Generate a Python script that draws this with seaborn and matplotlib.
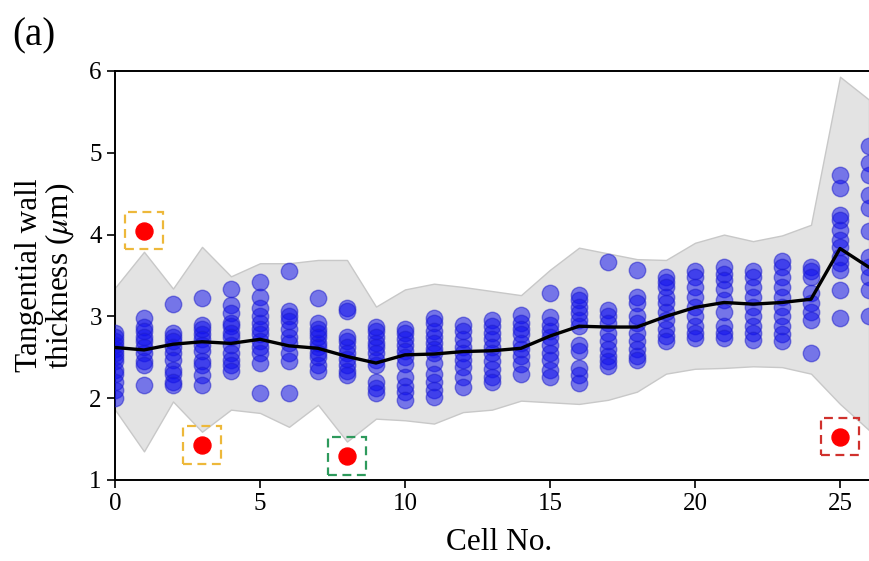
import numpy as np
import pandas as pd
import matplotlib
matplotlib.use("Agg")
import matplotlib.pyplot as plt
from matplotlib.patches import Rectangle
import seaborn as sns

# Wall thickness measurements (um) for each cell position
thickness = {
    0: [2.80, 2.75, 2.70, 2.65, 2.60, 2.55, 2.50, 2.45, 2.35, 2.30, 2.20, 2.10, 2.00],
    1: [2.98, 2.87, 2.82, 2.75, 2.70, 2.62, 2.55, 2.45, 2.40, 2.16],
    2: [3.15, 2.80, 2.75, 2.70, 2.62, 2.55, 2.47, 2.35, 2.30, 2.20, 2.16],
    3: [3.23, 2.90, 2.84, 2.78, 2.72, 2.65, 2.58, 2.45, 2.40, 2.28, 2.16],
    4: [3.34, 3.14, 3.04, 2.92, 2.88, 2.80, 2.75, 2.65, 2.55, 2.47, 2.40, 2.33],
    5: [3.42, 3.24, 3.10, 3.00, 2.92, 2.85, 2.78, 2.70, 2.63, 2.55, 2.43, 2.06],
    6: [3.56, 3.06, 3.00, 2.94, 2.85, 2.75, 2.68, 2.55, 2.45, 2.06],
    7: [3.22, 2.92, 2.85, 2.80, 2.75, 2.68, 2.62, 2.55, 2.50, 2.40, 2.33],
    8: [3.10, 3.06, 2.75, 2.70, 2.62, 2.55, 2.48, 2.40, 2.33, 2.28],
    9: [2.87, 2.82, 2.75, 2.68, 2.62, 2.55, 2.47, 2.40, 2.20, 2.12, 2.06],
    10: [2.85, 2.80, 2.72, 2.65, 2.58, 2.50, 2.42, 2.26, 2.15, 2.08, 1.98],
    11: [2.98, 2.92, 2.82, 2.75, 2.68, 2.60, 2.55, 2.43, 2.30, 2.20, 2.10, 2.02],
    12: [2.89, 2.82, 2.72, 2.62, 2.55, 2.47, 2.38, 2.26, 2.14],
    13: [2.95, 2.88, 2.80, 2.72, 2.62, 2.55, 2.45, 2.36, 2.26, 2.20],
    14: [3.02, 2.92, 2.85, 2.78, 2.68, 2.60, 2.52, 2.42, 2.30],
    15: [3.28, 2.99, 2.90, 2.82, 2.75, 2.65, 2.55, 2.47, 2.35, 2.26],
    16: [3.26, 3.20, 3.12, 3.04, 2.96, 2.88, 2.65, 2.58, 2.37, 2.28, 2.18],
    17: [3.67, 3.08, 3.00, 2.92, 2.80, 2.70, 2.60, 2.52, 2.45, 2.39],
    18: [3.57, 3.24, 3.16, 3.00, 2.92, 2.80, 2.70, 2.60, 2.52, 2.47],
    19: [3.48, 3.42, 3.36, 3.24, 3.16, 3.05, 2.95, 2.85, 2.76, 2.70],
    20: [3.55, 3.48, 3.36, 3.24, 3.12, 3.00, 2.88, 2.80, 2.74],
    21: [3.60, 3.52, 3.45, 3.33, 3.20, 3.05, 2.88, 2.80, 2.73],
    22: [3.56, 3.48, 3.36, 3.24, 3.12, 3.00, 2.88, 2.80, 2.71],
    23: [3.68, 3.60, 3.48, 3.36, 3.24, 3.12, 3.00, 2.88, 2.78, 2.70],
    24: [3.60, 3.55, 3.48, 3.28, 3.16, 3.05, 2.95, 2.55],
    25: [4.73, 4.57, 4.24, 4.18, 4.06, 3.94, 3.85, 3.73, 3.65, 3.57, 3.32, 2.98],
    26: [5.08, 4.87, 4.73, 4.48, 4.32, 4.04, 3.73, 3.60, 3.48, 3.32, 3.00],
}

cells = list(range(27))
mean_vals = [2.62, 2.59, 2.66, 2.69, 2.67, 2.72, 2.64, 2.61, 2.51, 2.43,
             2.53, 2.54, 2.57, 2.58, 2.61, 2.76, 2.88, 2.87, 2.87, 3.00,
             3.11, 3.17, 3.15, 3.17, 3.21, 3.83, 3.60]
band_hi = [3.35, 3.79, 3.34, 3.85, 3.49, 3.65, 3.65, 3.69, 3.69, 3.12,
           3.33, 3.40, 3.36, 3.31, 3.26, 3.57, 3.84, 3.77, 3.70, 3.69,
           3.90, 4.00, 3.92, 3.99, 4.12, 5.93, 5.65]
band_lo = [1.86, 1.35, 1.96, 1.59, 1.86, 1.82, 1.65, 1.92, 1.47, 1.75,
           1.73, 1.69, 1.83, 1.86, 1.97, 1.95, 1.93, 1.98, 2.08, 2.30,
           2.36, 2.37, 2.39, 2.38, 2.30, 1.93, 1.61]

# Flagged outlier cells
outlier_cells = [1, 3, 8, 25]
outlier_vals = [4.05, 1.43, 1.29, 1.53]
outlier_box_colors = ["#EDB83A", "#EDB83A", "#2E9A5C", "#D0312D"]

df = pd.DataFrame(
    [(c, v) for c, vals in thickness.items() for v in vals],
    columns=["cell", "thickness"],
)

sns.set_style("ticks")
plt.rcParams["font.family"] = ["Liberation Serif", "DejaVu Serif"]
plt.rcParams["mathtext.fontset"] = "stix"
for key in ["text.color", "axes.labelcolor", "xtick.color", "ytick.color"]:
    plt.rcParams[key] = "black"

fig = plt.figure(figsize=(8.69, 5.61), dpi=100)
ax_left = 115 / 869
ax_bottom = 1 - 480 / 561
ax_height = (480 - 71) / 561
ax_width = (26.5 * 29) / 869
ax = fig.add_axes([ax_left, ax_bottom, ax_width, ax_height])

ax.fill_between(cells, band_lo, band_hi, color="#e3e3e3",
                edgecolor="#c8c8c8", linewidth=1.0, zorder=1)

sns.scatterplot(data=df, x="cell", y="thickness", ax=ax, color="#1010ee",
                edgecolor="#2020cc", linewidth=1.0, alpha=0.52, s=140,
                zorder=3, legend=False)

sns.lineplot(x=cells, y=mean_vals, ax=ax, color="black", linewidth=2.4,
             zorder=4)

sns.scatterplot(x=outlier_cells, y=outlier_vals, ax=ax, color="red",
                edgecolor="red", s=150, zorder=5, legend=False)

box_w, box_h = 1.28, 0.46
for cx, cy, bc in zip(outlier_cells, outlier_vals, outlier_box_colors):
    ax.add_patch(Rectangle((cx - box_w / 2, cy - box_h / 2), box_w, box_h,
                           fill=False, edgecolor=bc, linewidth=1.6,
                           linestyle=(0, (4, 2.5)), zorder=6))

ax.set_xlim(0, 26.5)
ax.set_ylim(1, 6)
ax.set_xticks([0, 5, 10, 15, 20, 25])
ax.set_yticks([1, 2, 3, 4, 5, 6])
ax.tick_params(labelsize=18, width=1.2, length=6, direction="out")
for sp in ax.spines.values():
    sp.set_linewidth(1.4)
    sp.set_color("black")

ax.set_xlabel("Cell No.", fontsize=22.5, labelpad=9)
ax.set_ylabel("Tangential wall\nthickness ($\\mu$m)", fontsize=22.5,
              linespacing=0.95, labelpad=9)

fig.text(12 / 869, 1 - 45 / 561, "(a)", fontsize=28, ha="left", va="baseline")

fig.savefig("out.png", dpi=100)
